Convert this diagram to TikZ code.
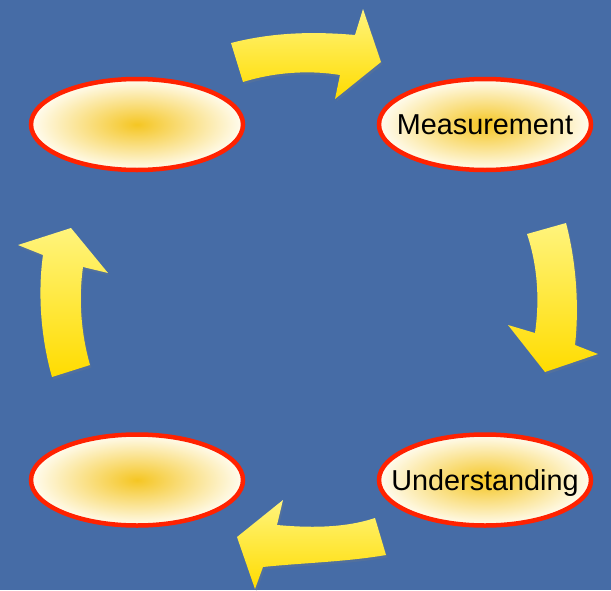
\documentclass[tikz,border=0pt]{standalone}
\usepackage{fontspec}
\setmainfont{Liberation Sans}
\usetikzlibrary{shapes.geometric,shadows}

\definecolor{bgblue}{RGB}{70,108,166}
\definecolor{rimred}{RGB}{255,34,0}
\definecolor{coregold}{RGB}{245,198,35}
\definecolor{rimcream}{RGB}{255,252,240}
\definecolor{arrowtop}{RGB}{255,244,125}
\definecolor{arrowbot}{RGB}{255,220,0}

\tikzset{
  stagebox/.style={ellipse, draw=rimred, line width=4.5pt,
    inner color=coregold, outer color=rimcream,
    minimum width=212pt, minimum height=91pt, inner sep=0pt},
  stagetext/.style={text height=20.6pt, text depth=0pt, inner sep=0pt,
    font=\fontsize{28.8}{34}\selectfont},
  bendarrow/.style={top color=arrowtop, bottom color=arrowbot,
    drop shadow={opacity=0.22, shadow xshift=1.5pt, shadow yshift=-2.5pt}}
}

\begin{document}
\begin{tikzpicture}[x=1pt, y=-1pt]
  % Background
  \fill[bgblue] (0,0) rectangle (611,590);
  \useasboundingbox (0,0) rectangle (611,590);
  % Stages
  \node[stagebox] (plan)    at (137,124.5) {};
  \node[stagebox, label={[stagetext]center:Measurement}] (measure) at (485,124.5) {};
  \node[stagebox, label={[stagetext]center:Understanding}] (under) at (485,480) {};
  \node[stagebox] (act)     at (137,480)   {};
  % Arrows round the cycle
  \path[bendarrow] (231,43) .. controls (270,33) and (310,31) .. (355,35)
    -- (363,9) -- (381,62) -- (335,99) -- (340,75)
    .. controls (310,70) and (275,72) .. (243,82) -- cycle;
  \path[bendarrow] (566,223) .. controls (577,265) and (579,310) .. (575,345)
    -- (598,354) -- (545,372) -- (508,325) -- (535,333)
    .. controls (539,305) and (539,270) .. (527,234) -- cycle;
  \path[bendarrow] (375,518) .. controls (345,528) and (310,528) .. (277,525)
    -- (283,500) -- (237,537) -- (255,589) -- (263,567)
    .. controls (300,563) and (345,562) .. (386,555) -- cycle;
  \path[bendarrow] (90,365) .. controls (80,330) and (79,295) .. (83,267)
    -- (108,273) -- (71,228) -- (18,245) -- (43,255)
    .. controls (38,290) and (40,335) .. (52,377) -- cycle;
\end{tikzpicture}
\end{document}
